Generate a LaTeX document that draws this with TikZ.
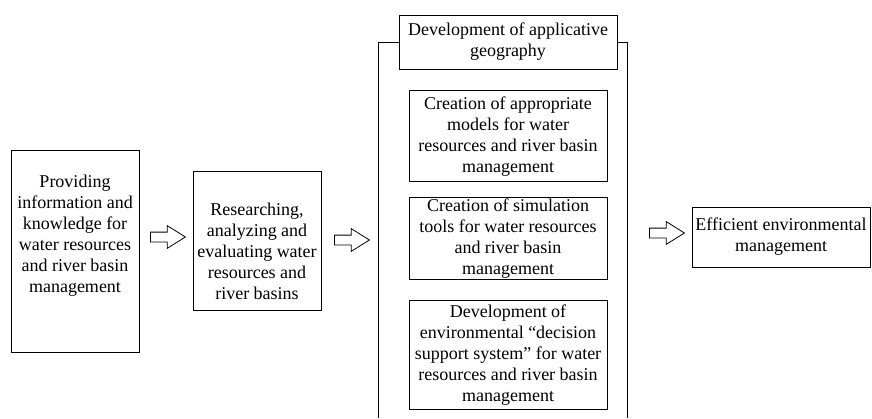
\documentclass[tikz,border=0pt]{standalone}
\usepackage{fontspec}
\setmainfont{Liberation Serif}
\usetikzlibrary{positioning,shapes,shapes.arrows}
\newcommand\boxfont{\fontsize{18}{21}\selectfont}

\begin{document}
\begin{tikzpicture}[%
        x=1pt, y=-1pt,
        line width=0.8pt,
        node distance=15pt,
        stage/.style={%
          rectangle,
          draw,
          inner sep=0pt,
          align=center,
          font=\boxfont
        },
        stagetext/.style={%
          inner sep=0pt,
          align=center,
          font=\boxfont
        },
        fatarrow/.style={%
          single arrow,
          draw,
          minimum height=35pt,
          inner xsep=0pt,
          inner ysep=4.5pt,
          single arrow head extend=6.5pt,
          single arrow tip angle=64
        }
      ]
      \useasboundingbox (0,0) rectangle (872,418);
      % left column
      \node[stage, minimum width=128pt, minimum height=202pt] (info) at (75,251) {};
      \node[stagetext, below=25pt] (infotext) at (info.north) {Providing\\information and\\knowledge for\\water resources\\and river basin\\management};
      \node[stage, minimum width=128pt, minimum height=139pt] (research) at (257,240.5) {};
      \node[stagetext, below=32pt] (researchtext) at (research.north) {Researching,\\analyzing and\\evaluating water\\resources and\\river basins};
      % applicative geography
      \node[stage, minimum width=218pt, minimum height=54pt] (geo) at (508,42) {Development of applicative\\geography};
      \node[stage, minimum width=198pt, minimum height=91pt, below=21pt of geo] (models) {Creation of appropriate\\models for water\\resources and river basin\\management};
      \node[stage, minimum width=198pt, minimum height=82pt, below=of models] (tools) {Creation of simulation\\tools for water resources\\and river basin\\management};
      \node[stage, minimum width=198pt, minimum height=109pt, below=20pt of tools] (dss) {Development of\\environmental “decision\\support system” for water\\resources and river basin\\management};
      \coordinate (leftfoot) at (378,418);
      \coordinate (rightfoot) at (627,418);
      \draw (leftfoot) |- (geo.west);
      \draw (geo.east) -| (rightfoot);
      % result
      \node[stage, minimum width=178pt, minimum height=60pt] (efficient) at (781,237) {Efficient environmental\\management};
      % arrows
      \node[fatarrow] (step1) at (164,237) {};
      \node[fatarrow] (step2) at (348,240) {};
      \node[fatarrow] (step3) at (663,233) {};
  \end{tikzpicture}
\end{document}
